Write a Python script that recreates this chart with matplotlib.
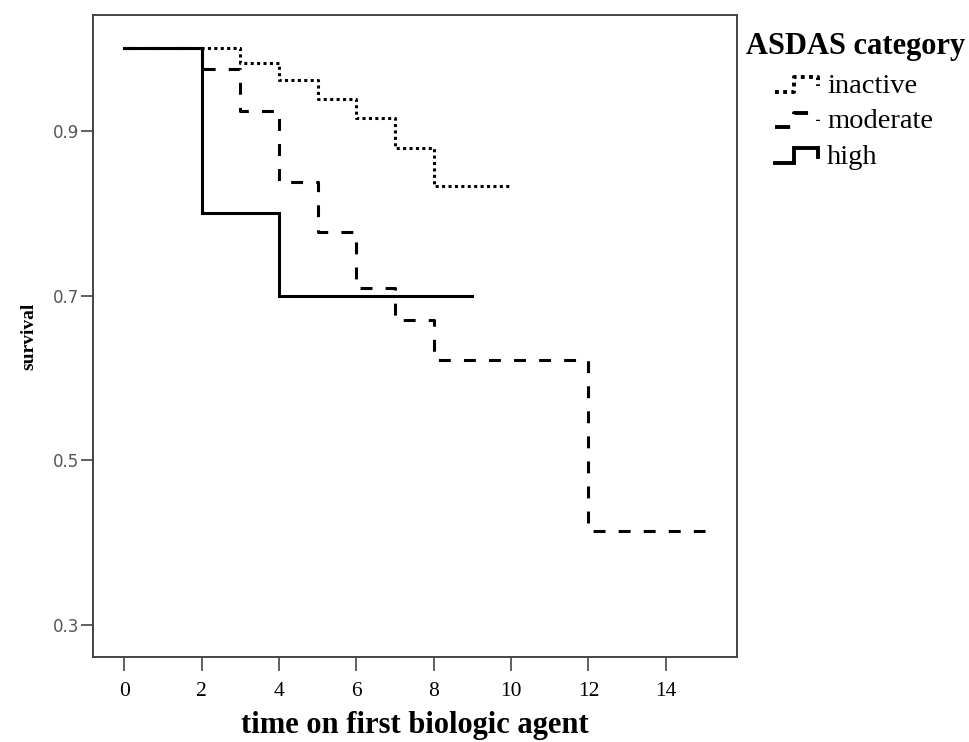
import numpy as np
import matplotlib
matplotlib.use("Agg")
import matplotlib.pyplot as plt
from matplotlib.lines import Line2D
from matplotlib.legend_handler import HandlerBase

# ---- данные: ступенчатые кривые выживаемости (время, доля) ----
t_inactive = [0, 3, 4, 5, 6, 7, 8, 10]
s_inactive = [1.0, 0.982, 0.961, 0.939, 0.915, 0.879, 0.833, 0.833]

t_moderate = [0, 2, 3, 4, 5, 6, 7, 8, 12, 15]
s_moderate = [1.0, 0.975, 0.924, 0.838, 0.777, 0.709, 0.670, 0.622, 0.414, 0.414]

t_high = [0, 2, 4, 9]
s_high = [1.0, 0.8, 0.7, 0.7]

labels = ['inactive', 'moderate', 'high']
x_ticks = [0, 2, 4, 6, 8, 10, 12, 14]
y_ticks = [0.3, 0.5, 0.7, 0.9]

SERIF = 'Liberation Serif'
LW = 2.2
styles = {
    'inactive': (0, (1.0, 1.1)),
    'moderate': (0, (3.9, 4.3)),
    'high': '-',
}


class StepHandler(HandlerBase):
    # значок легенды в виде ступеньки, с отступом слева
    def __init__(self, ls, icon_px=43):
        super().__init__()
        self.ls = ls
        self.icon_px = icon_px

    def create_artists(self, legend, orig_handle, xdescent, ydescent,
                       width, height, fontsize, trans):
        lo = -ydescent + 0.05 * height
        hi = -ydescent + 0.8 * height
        x1 = -xdescent + width
        w = self.icon_px * 72 / 100
        x0 = x1 - w
        xs = [x0, x0 + 0.45 * w, x0 + 0.45 * w, x1, x1]
        ys = [lo, lo, hi, hi, lo + 0.3 * height]
        ln = Line2D(xs, ys, color='black', lw=LW + 0.6, linestyle=self.ls,
                    solid_joinstyle='miter', transform=trans)
        return [ln]


fig = plt.figure(figsize=(9.69, 7.42), dpi=100)
ax = fig.add_axes([0.0957, 0.1141, 0.6649, 0.8657])

lines = []
hmap = {}
for t, s, name in [(t_inactive, s_inactive, 'inactive'),
                   (t_moderate, s_moderate, 'moderate'),
                   (t_high, s_high, 'high')]:
    ln, = ax.step(t, s, where='post', color='black', lw=LW,
                  linestyle=styles[name], solid_joinstyle='miter')
    lines.append(ln)
    hmap[ln] = StepHandler(styles[name])

ax.set_xlim(-0.817, 15.84)
ax.set_ylim(0.2612, 1.0404)
ax.set_xticks(x_ticks)
ax.set_yticks(y_ticks)
ax.set_xticklabels([str(v) for v in x_ticks], fontfamily=SERIF, fontsize=15.5)
ax.set_yticklabels([f'{v:.1f}' for v in y_ticks], fontfamily='DejaVu Sans',
                   fontsize=12, color='#555555')
ax.tick_params(axis='x', length=10, width=1.2, color='#444444', pad=8)
ax.tick_params(axis='y', length=9, width=1.2, color='#444444', pad=1)
for sp in ax.spines.values():
    sp.set_color('#444444')
    sp.set_linewidth(1.4)

ax.set_xlabel('time on first biologic agent', fontfamily=SERIF,
              fontweight='bold', fontsize=22, labelpad=7)
ax.set_ylabel('survival', fontfamily=SERIF, fontweight='bold', fontsize=14,
              labelpad=11)

fs = 20.5
leg = ax.legend(lines, labels, handler_map=hmap,
                loc='upper left', bbox_to_anchor=(746 / 969, 1 - 32 / 742),
                bbox_transform=fig.transFigure, frameon=False,
                title='ASDAS category', alignment='left',
                prop={'family': SERIF, 'size': fs},
                title_fontproperties={'family': SERIF, 'weight': 'bold', 'size': 22},
                borderpad=0, handlelength=72 / (fs * 100 / 72),
                handletextpad=9 / (fs * 100 / 72),
                labelspacing=0.32, borderaxespad=0)
leg._legend_box.sep = 9

fig.savefig('out.png', dpi=100)
